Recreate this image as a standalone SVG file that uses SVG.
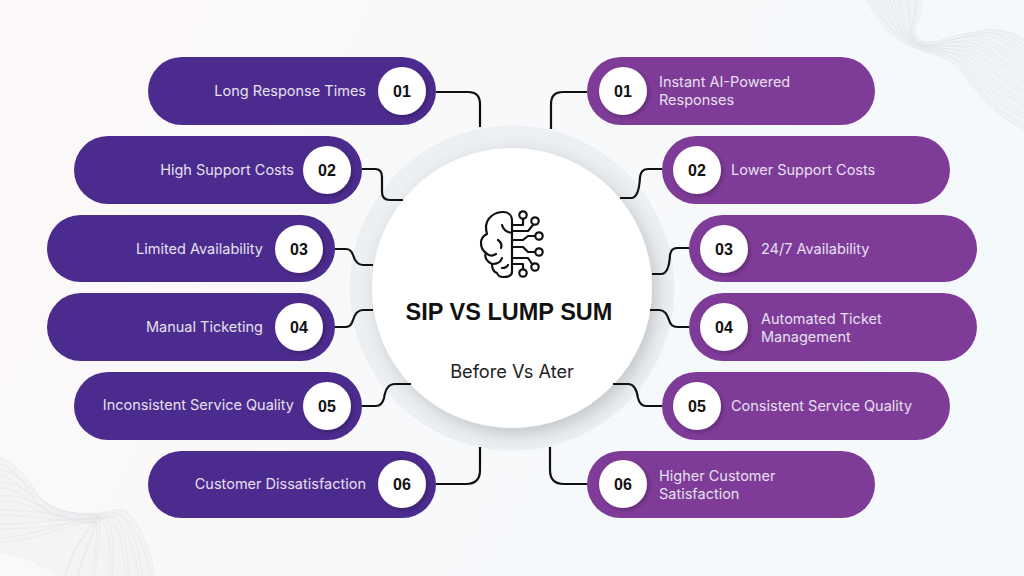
<svg xmlns="http://www.w3.org/2000/svg" width="1024" height="576" viewBox="0 0 1024 576">
<style>
text{font-family:Inter,"Liberation Sans",sans-serif}
.lp{fill:#4c2b8e}.rp{fill:#7f3b98}
.lab{fill:#e6e0ef;font-size:14.500px}
.end{text-anchor:end}
.badge{fill:#fff;filter:url(#s)}
.num{fill:#111;font-size:16px;font-weight:700;text-anchor:middle;font-family:"Liberation Sans",Arial,sans-serif}
.con{fill:none;stroke:#111;stroke-width:2.2}
.w{fill:none;stroke:#d6d9dd;stroke-width:.5;opacity:.7}
.wf{fill:#e8eaed;opacity:.35}
.ic{fill:none;stroke:#111;stroke-width:2.200;stroke-linecap:round;stroke-linejoin:round}
</style>
<defs>
<linearGradient id="bg" x1="0" y1="0" x2="1" y2="0.3"><stop offset="0" stop-color="#fdf8f8"/><stop offset="1" stop-color="#f4f9fc"/></linearGradient>
<filter id="s" x="-30%" y="-30%" width="170%" height="170%"><feDropShadow dx="2" dy="2" stdDeviation="2" flood-color="#000" flood-opacity=".25"/></filter>
<filter id="cs" x="-20%" y="-20%" width="140%" height="140%"><feDropShadow dx="5" dy="6" stdDeviation="9" flood-color="#000" flood-opacity=".18"/></filter>
</defs>
<rect width="1024" height="576" fill="url(#bg)"/>
<g id="wave-top-right">
<path class="wf" d="M866 0C880 25 895 42 920 50C935 56 945 55 955 65C970 80 985 110 1024 130V38C1015 32 1000 28 985 29C965 31 945 49 925 44C905 38 925 20 923 0Z"/>
<g id="wtr">
<path class="w" d="M866 0C880 25 895 42 920 50C935 56 945 55 955 65C970 80 985 110 1024 130"/>
<path class="w" d="M874 0C886 24 897 41 920 49C935 54 946 52 958 61C973 74 990 100 1024 118"/>
<path class="w" d="M882 0C892 23 899 40 920 48C935 53 946 49 962 56C977 66 995 90 1024 106"/>
<path class="w" d="M890 0C898 22 900 39 920 47C935 52 946 46 966 51C982 58 1000 80 1024 94"/>
<path class="w" d="M898 0C905 22 901 38 920 46C935 51 946 43 970 46C986 50 1005 68 1024 82"/>
<path class="w" d="M906 0C912 21 902 37 920 45C935 50 945 40 974 40C990 42 1010 57 1024 70"/>
<path class="w" d="M914 0C918 21 902 36 920 44C935 49 945 37 980 35C995 35 1015 45 1024 58"/>
<path class="w" d="M920 44C935 49 945 38 985 33C1000 32 1015 38 1024 46"/>
</g>
<use href="#wtr" transform="translate(2 -3)"/>
</g>
<g id="wave-bottom-left">
<path class="wf" d="M0 458C20 465 28 480 36 492C46 508 70 516 100 513C112 511 118 509 123 510C135 514 148 540 155 576H57C50 572 40 566 33 562C26 560 16 556 0 553Z"/>
<g id="wbl">
<path class="w" d="M0 458C20 465 28 480 36 492C46 508 70 516 100 513C112 511 118 509 123 510C135 514 148 540 155 576"/>
<path class="w" d="M0 470C20 472 28 488 40 498C52 510 75 516 100 514C112 512 118 512 120 514C130 522 138 545 142 576"/>
<path class="w" d="M0 482C18 482 30 494 44 503C56 512 78 516 100 515C110 514 114 516 116 518C124 528 128 552 128 576"/>
<path class="w" d="M0 496C18 494 34 502 48 508C60 514 80 517 100 516C106 516 108 520 110 524C114 540 114 560 112 576"/>
<path class="w" d="M0 510C20 510 38 512 54 514C68 516 84 517 100 517C100 530 98 556 94 576"/>
<path class="w" d="M0 524C20 524 44 522 60 520C72 519 88 518 100 517C94 530 84 556 78 576"/>
<path class="w" d="M0 538C20 536 50 530 64 524C76 520 90 518 100 517C88 526 72 550 66 576"/>
</g>
<use href="#wbl" transform="translate(-3 5)"/>
</g>
<g id="center">
<circle cx="512" cy="288" r="162.500" fill="#edf0f3"/>
<circle cx="512" cy="288" r="140" fill="#fff" filter="url(#cs)"/>
<g id="brain-icon" class="ic">
<path d="M512 272V221C512 215 508 212 503 212C494 212 487 218 486 226C486 229 486 231 487 234C483 236 481 239 481 243C481 247 483 251 486 253C484 257 487 262 492 264C492 269 494 272 497 273C498 276 500 277 503 277C508 277 512 276 512 272Z"/>
<path d="M512 233C506 232 503 229 502 225"/>
<path d="M498 240C501 242 502 245 501 248"/>
<path d="M486 253C489 256 493 256 496 254"/>
<path d="M492 264C497 264 501 262 502 258"/>
<path d="M502 268C505 268 507 267 508 265"/>
<path d="M512 225H523V219"/>
<circle cx="523" cy="215" r="3.700"/>
<path d="M512 231H528L533 225"/>
<circle cx="535" cy="221" r="3.700"/>
<path d="M512 240H523L528 236H535"/>
<circle cx="539" cy="236" r="3.700"/>
<path d="M512 247H523L528 252H535"/>
<circle cx="539" cy="252" r="3.700"/>
<path d="M512 258H528L532 264"/>
<circle cx="535" cy="267" r="3.700"/>
<path d="M512 264H523V269"/>
<circle cx="523" cy="273" r="3.700"/>
</g>
<text x="509" y="320" text-anchor="middle" font-size="23.500" font-weight="700" fill="#111" style='font-family:"Liberation Sans",Arial,sans-serif'>SIP VS LUMP SUM</text>
<text x="512" y="378" text-anchor="middle" font-size="18.200" fill="#222">Before Vs Ater</text>
</g>
<g id="connectors">
<path class="con" d="M436 92H468Q480 92 480 104V127"/>
<path class="con" d="M362 169H375Q382 169 382 177V192Q382 200 390 200H403"/>
<path class="con" d="M335 249H346Q351 249 353 255Q356 265 363 265H373"/>
<path class="con" d="M335 327H346Q351 327 353 320Q356 310 363 310H373"/>
<path class="con" d="M362 406H376Q382 406 384 398Q386 384 395 384H411"/>
<path class="con" d="M436 484H466Q480 484 480 470V447"/>
<path class="con" d="M587 92H563Q551 92 551 104V129"/>
<path class="con" d="M662 169H648Q641 169 640 177Q639 198 631 198H620"/>
<path class="con" d="M689 248H677Q671 248 670 255Q669 274 661 274H652"/>
<path class="con" d="M689 327H677Q671 327 669 320Q666 310 659 310H650"/>
<path class="con" d="M662 406H646Q640 406 638 398Q636 384 628 384H613"/>
<path class="con" d="M587 484H564Q550 484 550 470V447"/>
</g>
<g id="l1"><rect class="lp" x="148" y="57" width="288" height="68" rx="34"/><circle class="badge" cx="402" cy="91" r="24"/><text class="num" x="402" y="97">01</text><text class="lab end" x="366" y="96">Long Response Times</text></g>
<g id="l2"><rect class="lp" x="74" y="136" width="288" height="68" rx="34"/><circle class="badge" cx="327" cy="170" r="24"/><text class="num" x="327" y="176">02</text><text class="lab end" x="294" y="175">High Support Costs</text></g>
<g id="l3"><rect class="lp" x="47" y="215" width="288" height="67" rx="33.500"/><circle class="badge" cx="299" cy="249" r="24"/><text class="num" x="299" y="255">03</text><text class="lab end" x="263" y="254">Limited Availability</text></g>
<g id="l4"><rect class="lp" x="47" y="293" width="288" height="68" rx="34"/><circle class="badge" cx="299" cy="327" r="24"/><text class="num" x="299" y="333">04</text><text class="lab end" x="263" y="332">Manual Ticketing</text></g>
<g id="l5"><rect class="lp" x="74" y="372" width="288" height="68" rx="34"/><circle class="badge" cx="327" cy="406" r="24"/><text class="num" x="327" y="412">05</text><text class="lab end" x="294" y="410">Inconsistent Service Quality</text></g>
<g id="l6"><rect class="lp" x="148" y="451" width="288" height="67" rx="33.500"/><circle class="badge" cx="402" cy="484" r="24"/><text class="num" x="402" y="490">06</text><text class="lab end" x="366" y="489">Customer Dissatisfaction</text></g>
<g id="r1"><rect class="rp" x="587" y="57" width="288" height="68" rx="34"/><circle class="badge" cx="623" cy="91" r="24"/><text class="num" x="623" y="97">01</text><text class="lab" x="659" y="87">Instant AI-Powered</text><text class="lab" x="659" y="105">Responses</text></g>
<g id="r2"><rect class="rp" x="662" y="136" width="288" height="68" rx="34"/><circle class="badge" cx="697" cy="170" r="24"/><text class="num" x="697" y="176">02</text><text class="lab" x="731" y="175">Lower Support Costs</text></g>
<g id="r3"><rect class="rp" x="689" y="215" width="288" height="67" rx="33.500"/><circle class="badge" cx="724" cy="249" r="24"/><text class="num" x="724" y="255">03</text><text class="lab" x="761" y="254">24/7 Availability</text></g>
<g id="r4"><rect class="rp" x="689" y="293" width="288" height="68" rx="34"/><circle class="badge" cx="724" cy="327" r="24"/><text class="num" x="724" y="333">04</text><text class="lab" x="761" y="324">Automated Ticket</text><text class="lab" x="761" y="342">Management</text></g>
<g id="r5"><rect class="rp" x="662" y="372" width="288" height="68" rx="34"/><circle class="badge" cx="697" cy="406" r="24"/><text class="num" x="697" y="412">05</text><text class="lab" x="731" y="411">Consistent Service Quality</text></g>
<g id="r6"><rect class="rp" x="587" y="451" width="288" height="67" rx="33.500"/><circle class="badge" cx="623" cy="484" r="24"/><text class="num" x="623" y="490">06</text><text class="lab" x="659" y="481">Higher Customer</text><text class="lab" x="659" y="499">Satisfaction</text></g>
</svg>
